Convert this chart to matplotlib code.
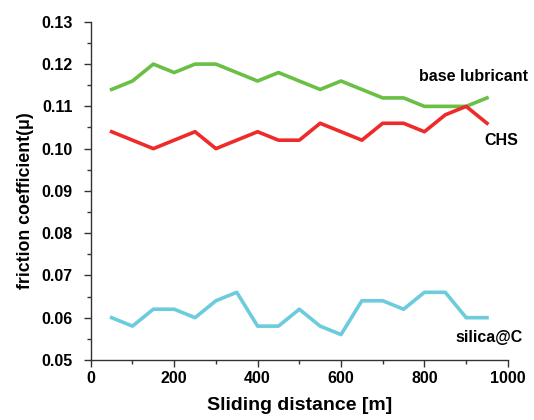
import matplotlib
matplotlib.use("Agg")
import matplotlib.pyplot as plt
from matplotlib.ticker import MultipleLocator

distance = [50, 100, 150, 200, 250, 300, 350, 400, 450, 500, 550, 600, 650, 700, 750, 800, 850, 900, 950]
base_lubricant = [0.114, 0.116, 0.120, 0.118, 0.120, 0.120, 0.118, 0.116, 0.118, 0.116, 0.114, 0.116, 0.114, 0.112, 0.112, 0.110, 0.110, 0.110, 0.112]
chs = [0.104, 0.102, 0.100, 0.102, 0.104, 0.100, 0.102, 0.104, 0.102, 0.102, 0.106, 0.104, 0.102, 0.106, 0.106, 0.104, 0.108, 0.110, 0.106]
silica_c = [0.060, 0.058, 0.062, 0.062, 0.060, 0.064, 0.066, 0.058, 0.058, 0.062, 0.058, 0.056, 0.064, 0.064, 0.062, 0.066, 0.066, 0.060, 0.060]

plt.rcParams['font.family'] = ['Liberation Sans', 'DejaVu Sans']

fig = plt.figure(figsize=(5.34, 4.2), dpi=100)
ax = fig.add_axes([0.170, 0.143, 0.781, 0.805])

ax.plot(distance, base_lubricant, color='#6abf45', lw=2.6)
ax.plot(distance, chs, color='#ee2a2a', lw=2.6)
ax.plot(distance, silica_c, color='#6ccbdc', lw=2.6)

ax.set_xlim(0, 1000)
ax.set_ylim(0.05, 0.13)
ax.xaxis.set_major_locator(MultipleLocator(200))
ax.xaxis.set_minor_locator(MultipleLocator(100))
ax.yaxis.set_major_locator(MultipleLocator(0.01))
ax.yaxis.set_minor_locator(MultipleLocator(0.005))
ax.yaxis.set_major_formatter(matplotlib.ticker.FormatStrFormatter('%.2f'))

for s in ['top', 'right']:
    ax.spines[s].set_visible(False)
for s in ['left', 'bottom']:
    ax.spines[s].set_color('#333333')
    ax.spines[s].set_linewidth(1.0)

ax.tick_params(which='major', length=5, width=1, color='#333333', labelsize=11.5)
ax.tick_params(axis='y', which='major', pad=8)
ax.tick_params(axis='x', which='major', pad=3)
ax.tick_params(which='minor', length=3, width=1, color='#333333')
for lab in ax.get_xticklabels() + ax.get_yticklabels():
    lab.set_fontweight('bold')

ax.set_xlabel('Sliding distance [m]', fontsize=14, fontweight='bold', labelpad=8)
ax.set_ylabel('friction coefficient(\u03bc)', fontsize=12.8, fontweight='bold', labelpad=12)
ax.yaxis.set_label_coords(-0.135, 0.47)

ax.text(1048, 0.1170, 'base lubricant', fontsize=11.5, fontweight='bold', ha='right', va='center', clip_on=False)
ax.text(1024, 0.1020, 'CHS', fontsize=11.5, fontweight='bold', ha='right', va='center', clip_on=False)
ax.text(1036, 0.0554, 'silica@C', fontsize=11.5, fontweight='bold', ha='right', va='center', clip_on=False)

fig.savefig('out.png', dpi=100)
